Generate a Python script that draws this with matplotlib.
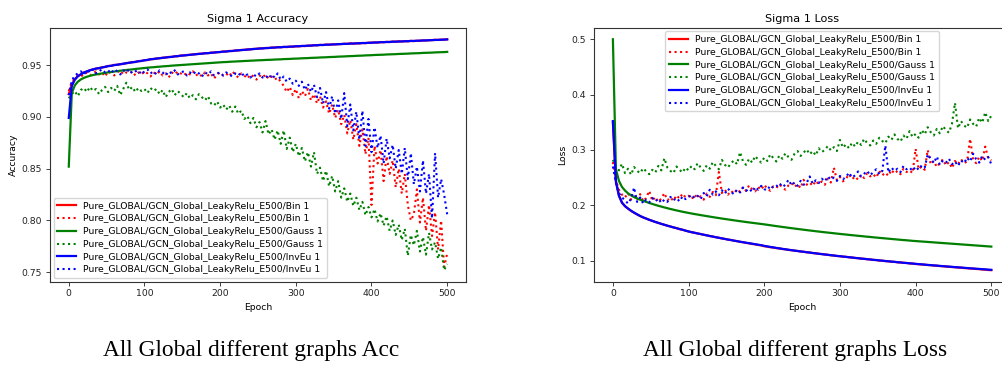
import numpy as np
import matplotlib
matplotlib.use("Agg")
import matplotlib.pyplot as plt

# ---------------- data (every 4th epoch) ----------------
epochs = np.arange(0, 501, 4)

series_labels = [
    "Pure_GLOBAL/GCN_Global_LeakyRelu_E500/Bin 1",
    "Pure_GLOBAL/GCN_Global_LeakyRelu_E500/Bin 1",
    "Pure_GLOBAL/GCN_Global_LeakyRelu_E500/Gauss 1",
    "Pure_GLOBAL/GCN_Global_LeakyRelu_E500/Gauss 1",
    "Pure_GLOBAL/GCN_Global_LeakyRelu_E500/InvEu 1",
    "Pure_GLOBAL/GCN_Global_LeakyRelu_E500/InvEu 1",
]

# Accuracy, solid (train) lines, x 1e-4
acc_bin_solid = [
    9220, 9310, 9362, 9395, 9410, 9430, 9438, 9452, 9457, 9468,
    9470, 9479, 9482, 9492, 9493, 9502, 9503, 9510, 9512, 9520,
    9522, 9529, 9530, 9539, 9540, 9548, 9549, 9558, 9558, 9565,
    9566, 9572, 9573, 9579, 9579, 9586, 9586, 9593, 9593, 9598,
    9599, 9604, 9605, 9610, 9610, 9616, 9615, 9621, 9621, 9626,
    9626, 9632, 9631, 9637, 9636, 9642, 9642, 9647, 9647, 9652,
    9652, 9657, 9657, 9662, 9661, 9666, 9665, 9670, 9669, 9674,
    9672, 9677, 9674, 9679, 9677, 9682, 9681, 9685, 9684, 9688,
    9688, 9693, 9691, 9696, 9694, 9699, 9697, 9701, 9700, 9703,
    9703, 9707, 9705, 9710, 9707, 9711, 9709, 9714, 9712, 9717,
    9716, 9720, 9718, 9723, 9721, 9725, 9723, 9728, 9726, 9730,
    9728, 9732, 9729, 9735, 9732, 9736, 9734, 9739, 9737, 9741,
    9741, 9745, 9743, 9747, 9746, 9750]
acc_invEu_solid = [
    8990, 9300, 9360, 9392, 9412, 9428, 9440, 9450, 9459, 9466,
    9472, 9477, 9484, 9490, 9494, 9500, 9504, 9508, 9514, 9518,
    9524, 9527, 9532, 9537, 9541, 9546, 9551, 9556, 9560, 9563,
    9567, 9570, 9574, 9577, 9580, 9584, 9587, 9591, 9594, 9596,
    9600, 9602, 9606, 9608, 9611, 9614, 9616, 9619, 9622, 9624,
    9627, 9630, 9632, 9635, 9637, 9640, 9643, 9645, 9648, 9650,
    9653, 9655, 9658, 9660, 9662, 9664, 9666, 9668, 9670, 9672,
    9673, 9675, 9677, 9678, 9680, 9682, 9683, 9685, 9686, 9688,
    9689, 9691, 9692, 9694, 9695, 9697, 9698, 9699, 9701, 9702,
    9704, 9705, 9706, 9708, 9709, 9710, 9712, 9713, 9714, 9715,
    9717, 9718, 9719, 9721, 9722, 9723, 9724, 9726, 9727, 9728,
    9729, 9730, 9732, 9733, 9734, 9735, 9737, 9738, 9739, 9740,
    9742, 9743, 9744, 9745, 9747, 9748]
acc_gauss_solid = [
    8520, 9230, 9305, 9340, 9362, 9377, 9388, 9397, 9404, 9410,
    9415, 9420, 9425, 9430, 9434, 9438, 9442, 9446, 9449, 9453,
    9456, 9459, 9463, 9466, 9469, 9472, 9475, 9478, 9480, 9483,
    9485, 9488, 9490, 9492, 9495, 9497, 9499, 9501, 9503, 9505,
    9507, 9509, 9511, 9513, 9515, 9517, 9519, 9521, 9523, 9525,
    9527, 9529, 9530, 9532, 9534, 9535, 9537, 9538, 9540, 9541,
    9543, 9544, 9546, 9547, 9548, 9550, 9551, 9552, 9554, 9555,
    9556, 9558, 9559, 9560, 9562, 9563, 9564, 9566, 9567, 9568,
    9570, 9571, 9572, 9574, 9575, 9576, 9578, 9579, 9580, 9582,
    9583, 9584, 9586, 9587, 9588, 9590, 9591, 9592, 9594, 9595,
    9596, 9598, 9599, 9600, 9601, 9603, 9604, 9605, 9606, 9608,
    9609, 9610, 9611, 9613, 9614, 9615, 9616, 9618, 9619, 9620,
    9621, 9623, 9624, 9625, 9626, 9628]

# Accuracy, dotted (validation) lines, x 1e-3
acc_bin_dotted = [
    925, 934, 937, 940, 939, 941, 943, 940, 942, 944,
    941, 943, 939, 944, 942, 940, 943, 945, 941, 943,
    942, 944, 940, 943, 941, 944, 942, 939, 943, 941,
    944, 940, 942, 938, 943, 941, 944, 942, 940, 943,
    941, 944, 940, 942, 939, 943, 940, 942, 937, 941,
    943, 940, 942, 939, 944, 941, 938, 942, 940, 937,
    941, 939, 936, 940, 938, 941, 937, 939, 936, 938,
    934, 930, 924, 929, 921, 927, 918, 925, 920, 927,
    916, 922, 913, 920, 909, 915, 903, 912, 899, 907,
    893, 902, 884, 897, 878, 893, 872, 888, 864, 880,
    815, 872, 855, 868, 838, 862, 845, 858, 832, 850,
    826, 845, 815, 800, 806, 830, 798, 822, 790, 815,
    785, 808, 772, 800, 755, 768]
acc_invEu_dotted = [
    921, 935, 940, 942, 944, 941, 945, 943, 946, 942,
    944, 946, 943, 945, 942, 946, 944, 941, 945, 943,
    946, 942, 944, 945, 941, 944, 946, 942, 944, 941,
    945, 943, 940, 944, 942, 945, 941, 943, 944, 940,
    943, 941, 944, 942, 939, 943, 941, 944, 940, 942,
    943, 940, 943, 941, 939, 942, 940, 943, 939, 941,
    938, 941, 939, 942, 938, 940, 937, 941, 938, 942,
    936, 939, 934, 937, 932, 935, 930, 934, 926, 932,
    924, 931, 919, 928, 913, 924, 908, 920, 903, 916,
    898, 923, 891, 912, 887, 905, 878, 906, 872, 898,
    866, 890, 870, 882, 855, 879, 860, 873, 850, 868,
    845, 870, 840, 865, 835, 852, 828, 858, 826, 845,
    802, 865, 822, 840, 825, 806]
acc_gauss_dotted = [
    918, 922, 925, 920, 926, 928, 924, 929, 925, 927,
    922, 926, 929, 924, 928, 925, 930, 921, 927, 933,
    926, 929, 924, 928, 925, 927, 923, 928, 925, 927,
    922, 926, 919, 924, 927, 921, 925, 922, 919, 923,
    918, 921, 917, 922, 919, 916, 920, 913, 911, 915,
    909, 912, 907, 911, 905, 910, 903, 906, 898, 901,
    894, 899, 890, 895, 885, 896, 883, 888, 878, 887,
    874, 887, 869, 880, 866, 874, 862, 870, 857, 866,
    852, 866, 845, 851, 838, 848, 833, 843, 828, 838,
    822, 831, 818, 826, 814, 822, 810, 818, 805, 813,
    803, 811, 799, 807, 795, 804, 790, 800, 786, 796,
    781, 792, 766, 786, 776, 790, 770, 784, 767, 788,
    772, 779, 763, 774, 752, 758]

# Loss, solid lines, x 1e-4
loss_bin_solid = [
    3500, 2440, 2175, 2048, 1980, 1938, 1898, 1864, 1834, 1804,
    1779, 1759, 1736, 1718, 1697, 1681, 1662, 1647, 1629, 1615,
    1598, 1586, 1568, 1557, 1539, 1526, 1511, 1502, 1488, 1479,
    1465, 1456, 1442, 1434, 1420, 1412, 1399, 1391, 1378, 1371,
    1358, 1351, 1338, 1331, 1318, 1312, 1300, 1293, 1281, 1275,
    1258, 1252, 1240, 1235, 1224, 1219, 1208, 1203, 1192, 1188,
    1178, 1173, 1163, 1159, 1149, 1145, 1135, 1131, 1121, 1117,
    1108, 1104, 1095, 1091, 1082, 1079, 1070, 1067, 1058, 1055,
    1046, 1043, 1034, 1031, 1023, 1020, 1011, 1009, 1000, 998,
    989, 987, 979, 977, 968, 966, 958, 956, 948, 946,
    937, 935, 928, 925, 918, 916, 909, 907, 900, 897,
    891, 888, 882, 879, 873, 871, 864, 862, 855, 853,
    847, 845, 838, 836, 829, 826]
loss_invEu_solid = [
    3520, 2420, 2170, 2045, 1985, 1940, 1900, 1866, 1835, 1806,
    1780, 1758, 1737, 1717, 1698, 1680, 1663, 1646, 1630, 1615,
    1600, 1585, 1570, 1556, 1541, 1525, 1513, 1501, 1490, 1478,
    1467, 1455, 1444, 1433, 1422, 1411, 1401, 1390, 1380, 1370,
    1360, 1350, 1340, 1331, 1322, 1313, 1304, 1295, 1286, 1277,
    1265, 1255, 1246, 1237, 1228, 1220, 1211, 1203, 1195, 1187,
    1180, 1172, 1165, 1158, 1151, 1144, 1137, 1130, 1123, 1116,
    1110, 1103, 1097, 1090, 1084, 1078, 1072, 1066, 1060, 1054,
    1048, 1042, 1036, 1030, 1025, 1019, 1013, 1008, 1002, 997,
    991, 986, 981, 976, 970, 965, 960, 955, 950, 945,
    940, 935, 931, 926, 921, 917, 912, 908, 903, 899,
    894, 890, 886, 881, 877, 873, 869, 864, 860, 856,
    852, 848, 844, 840, 836, 832]
loss_gauss_solid = [
    5000, 2650, 2440, 2330, 2265, 2215, 2178, 2148, 2122, 2100,
    2080, 2060, 2041, 2023, 2006, 1990, 1975, 1960, 1946, 1932,
    1919, 1906, 1894, 1882, 1871, 1860, 1850, 1840, 1831, 1821,
    1812, 1803, 1794, 1785, 1776, 1768, 1759, 1751, 1743, 1735,
    1727, 1719, 1711, 1704, 1696, 1689, 1682, 1675, 1668, 1661,
    1654, 1646, 1638, 1630, 1622, 1615, 1607, 1600, 1592, 1585,
    1578, 1571, 1564, 1557, 1550, 1543, 1537, 1530, 1524, 1517,
    1511, 1505, 1499, 1493, 1487, 1481, 1475, 1470, 1464, 1458,
    1453, 1447, 1442, 1436, 1431, 1426, 1420, 1415, 1410, 1405,
    1400, 1395, 1390, 1385, 1380, 1375, 1370, 1366, 1361, 1356,
    1352, 1348, 1344, 1340, 1336, 1332, 1328, 1324, 1320, 1316,
    1312, 1308, 1304, 1300, 1296, 1292, 1288, 1284, 1280, 1276,
    1272, 1268, 1264, 1260, 1256, 1252]

# Loss, dotted lines, x 1e-3
loss_bin_dotted = [
    278, 245, 228, 219, 214, 222, 210, 216, 209, 220,
    207, 213, 226, 208, 215, 206, 212, 222, 209, 214,
    208, 218, 212, 221, 214, 217, 211, 219, 213, 216,
    210, 221, 215, 224, 218, 260, 222, 228, 219, 226,
    221, 229, 224, 233, 226, 236, 229, 225, 233, 228,
    237, 230, 226, 234, 231, 238, 232, 228, 236, 240,
    233, 238, 231, 246, 237, 241, 235, 244, 238, 243,
    237, 248, 241, 268, 245, 251, 243, 248, 256, 247,
    252, 246, 255, 249, 258, 252, 256, 250, 262, 254,
    259, 253, 264, 257, 262, 256, 266, 260, 263, 258,
    302, 265, 270, 264, 300, 274, 280, 269, 276, 283,
    272, 278, 267, 280, 274, 283, 276, 279, 320, 282,
    276, 288, 280, 306, 284, 281]
loss_invEu_dotted = [
    270, 240, 222, 214, 209, 203, 212, 232, 206, 214,
    203, 210, 205, 213, 207, 212, 204, 210, 206, 215,
    209, 213, 207, 216, 211, 214, 219, 213, 217, 211,
    222, 216, 228, 219, 225, 218, 227, 221, 230, 224,
    220, 228, 223, 232, 226, 230, 224, 233, 228, 235,
    229, 227, 236, 231, 234, 240, 233, 237, 246, 236,
    241, 235, 244, 237, 240, 252, 239, 245, 240, 248,
    243, 252, 246, 250, 244, 253, 247, 251, 259, 250,
    254, 261, 252, 257, 262, 254, 260, 265, 256, 262,
    308, 259, 268, 262, 266, 260, 271, 265, 268, 262,
    270, 264, 272, 268, 292, 284, 276, 288, 273, 281,
    277, 284, 274, 279, 271, 281, 276, 286, 279, 293,
    283, 277, 289, 282, 287, 274]
loss_gauss_dotted = [
    282, 270, 263, 275, 258, 266, 255, 269, 262, 258,
    267, 261, 256, 264, 259, 271, 263, 285, 268, 262,
    258, 270, 264, 259, 268, 263, 271, 265, 276, 268,
    262, 272, 266, 278, 271, 265, 282, 273, 268, 276,
    281, 274, 296, 279, 273, 284, 277, 289, 282, 277,
    286, 280, 292, 285, 279, 290, 284, 294, 287, 282,
    293, 298, 289, 295, 301, 292, 298, 290, 303, 296,
    300, 307, 299, 305, 298, 318, 304, 310, 303, 313,
    306, 315, 309, 320, 312, 308, 317, 311, 322, 316,
    312, 324, 318, 328, 320, 315, 326, 320, 334, 323,
    329, 322, 336, 328, 341, 332, 326, 338, 330, 343,
    336, 331, 347, 385, 339, 352, 344, 340, 355, 347,
    342, 358, 349, 368, 352, 362]

acc_series = [acc_bin_solid, acc_bin_dotted, acc_gauss_solid,
              acc_gauss_dotted, acc_invEu_solid, acc_invEu_dotted]
acc_scale = [1e-4, 1e-3, 1e-4, 1e-3, 1e-4, 1e-3]
loss_series = [loss_bin_solid, loss_bin_dotted, loss_gauss_solid,
               loss_gauss_dotted, loss_invEu_solid, loss_invEu_dotted]
loss_scale = [1e-4, 1e-3, 1e-4, 1e-3, 1e-4, 1e-3]

for s in acc_series + loss_series:
    if len(s) != len(epochs):
        raise ValueError(f"length mismatch {len(s)}")

colors = ["red", "red", "green", "green", "blue", "blue"]
styles = ["-", ":", "-", ":", "-", ":"]

# ---------------- figure ----------------
plt.rcParams["font.family"] = "DejaVu Sans"
fig = plt.figure(figsize=(10.03, 3.65), dpi=100)

ax1 = fig.add_axes([0.0497, 0.2282, 0.4150, 0.6959])
ax2 = fig.add_axes([0.5922, 0.2282, 0.4150, 0.6959])

FS = 6.7
for ax, series, scales, title, ylabel in [
        (ax1, acc_series, acc_scale, "Sigma 1 Accuracy", "Accuracy"),
        (ax2, loss_series, loss_scale, "Sigma 1 Loss", "Loss")]:
    for vals, sc, c, ls, lab in zip(series, scales, colors, styles, series_labels):
        ax.plot(epochs, np.array(vals) * sc, color=c, linestyle=ls,
                linewidth=1.6 if ls == "-" else 1.5, label=lab)
    ax.set_title(title, fontsize=8.1, pad=4)
    ax.set_xlabel("Epoch", fontsize=FS, labelpad=3)
    ax.set_ylabel(ylabel, fontsize=FS, labelpad=3)
    ax.tick_params(labelsize=FS, length=3, width=0.6, pad=2.5, colors="#222222")
    ax.set_xticks([0, 100, 200, 300, 400, 500])
    for sp in ax.spines.values():
        sp.set_linewidth(0.8)
        sp.set_color("#333333")

ax1.set_yticks([0.75, 0.80, 0.85, 0.90, 0.95])
ax2.set_yticks([0.1, 0.2, 0.3, 0.4, 0.5])

ax1.legend(loc="lower left", fontsize=FS, handlelength=2.0,
           labelspacing=0.4, borderaxespad=0.4)
ax2.legend(loc="upper center", fontsize=FS, handlelength=2.0,
           labelspacing=0.4, borderaxespad=0.4)

fig.text(0.2503, 0.024, "All Global different graphs Acc",
         family="Liberation Serif", fontsize=16.8, ha="center", va="baseline")
fig.text(0.7926, 0.024, "All Global different graphs Loss",
         family="Liberation Serif", fontsize=16.8, ha="center", va="baseline")

fig.savefig("out.png", dpi=100)
